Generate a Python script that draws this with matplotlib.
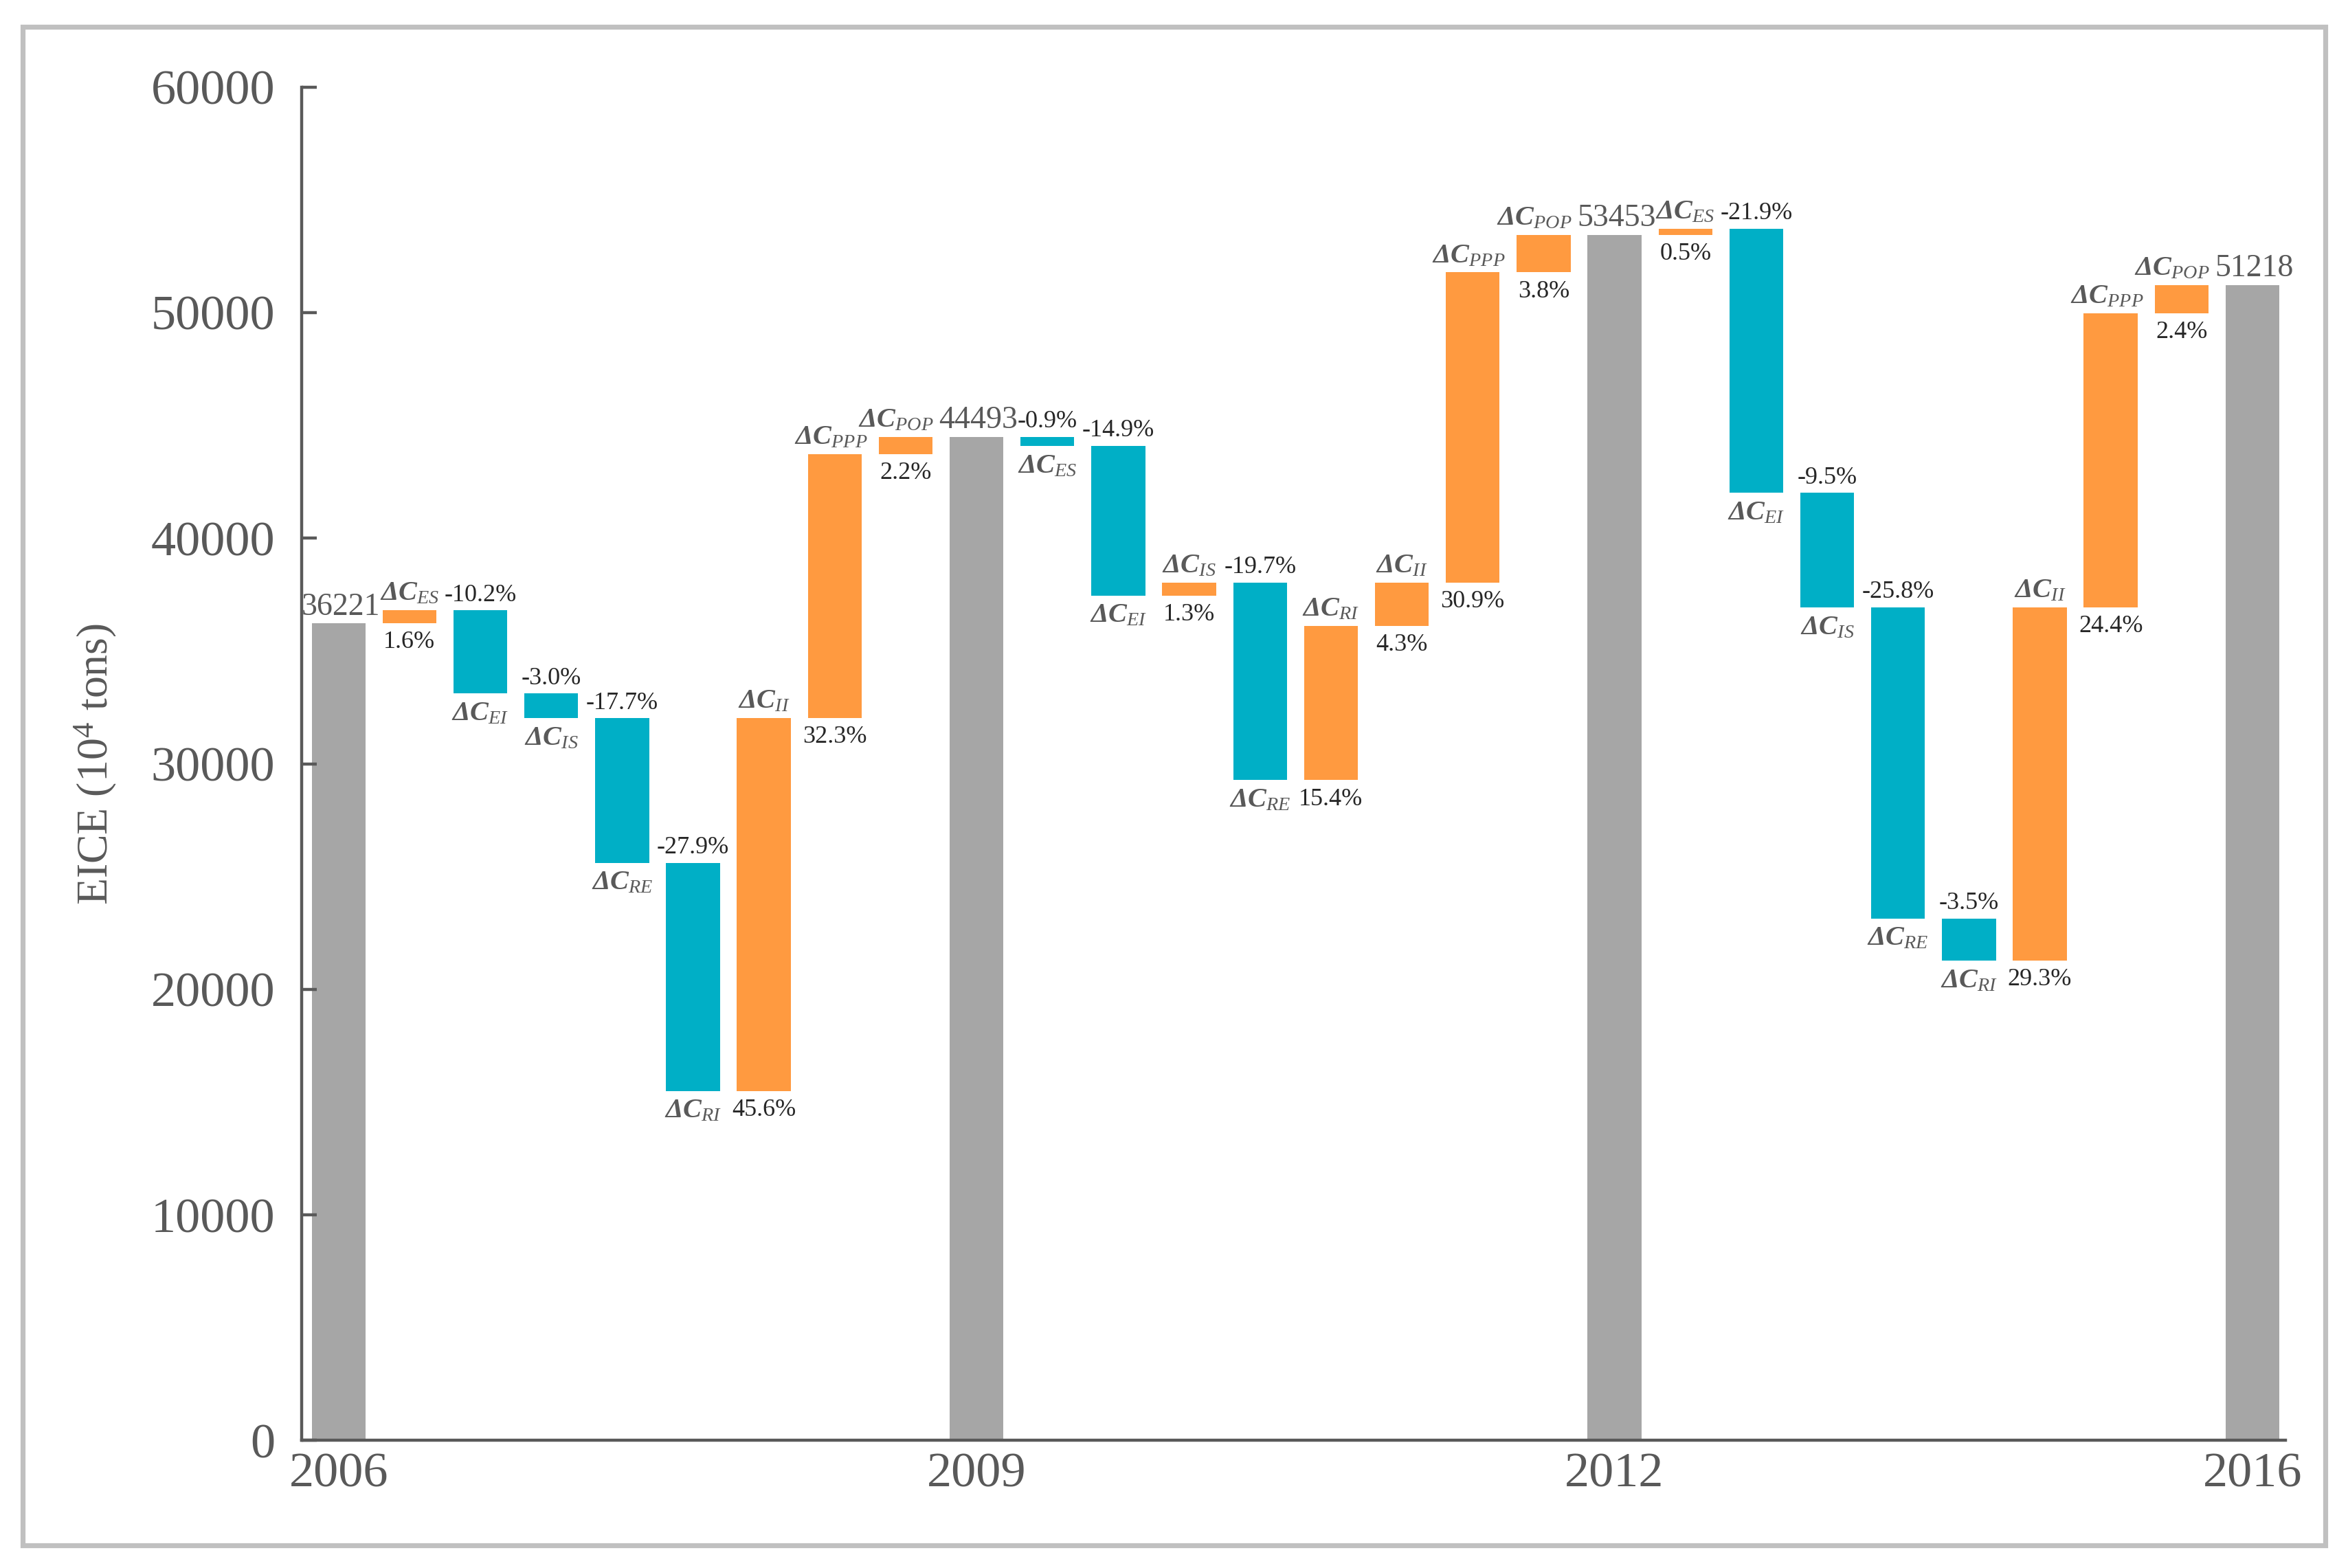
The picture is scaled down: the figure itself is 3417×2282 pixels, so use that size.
import matplotlib
matplotlib.use("Agg")
import matplotlib.pyplot as plt
from matplotlib.patches import Rectangle

plt.rcParams['font.family'] = ['Liberation Serif', 'DejaVu Serif']
plt.rcParams['mathtext.fontset'] = 'custom'
plt.rcParams['mathtext.rm'] = 'Liberation Serif'
plt.rcParams['mathtext.it'] = 'Liberation Serif:italic'
plt.rcParams['mathtext.bf'] = 'Liberation Serif:bold:italic'

# dane (10^4 ton)
years = ['2006', '2009', '2012', '2016']
totals = [36221, 44493, 53453, 51218]
factors = ['ES', 'EI', 'IS', 'RE', 'RI', 'II', 'PPP', 'POP']

effects_0609 = [580, -3690, -1090, -6410, -10110, 16520, 11700, 770]
effects_0912 = [-400, -6630, 580, -8770, 6850, 1910, 13750, 1670]
effects_1216 = [270, -11710, -5080, -13790, -1870, 15660, 13040, 1250]

pct_0609 = [1.6, -10.2, -3.0, -17.7, -27.9, 45.6, 32.3, 2.2]
pct_0912 = [-0.9, -14.9, 1.3, -19.7, 15.4, 4.3, 30.9, 3.8]
pct_1216 = [0.5, -21.9, -9.5, -25.8, -3.5, 29.3, 24.4, 2.4]

effects = [effects_0609, effects_0912, effects_1216]
pcts = [pct_0609, pct_0912, pct_1216]

GRAY = '#A6A6A6'
TEAL = '#00AFC6'
ORANGE = '#FF9A40'
TXT = '#595959'

fig = plt.figure(figsize=(17.085, 11.41), dpi=200)
ax = fig.add_axes([0.1285, 0.0813, 0.845, 0.8632])

w = 0.76
pos = 0
tick_pos = []
for k in range(4):
    # slupek calkowity
    ax.bar(pos, totals[k], width=w, color=GRAY)
    ax.annotate(str(totals[k]), (pos, totals[k]), xytext=(1, 1),
                textcoords='offset points', ha='center', va='bottom',
                fontsize=16.5, color=TXT)
    tick_pos.append(pos)
    pos += 1
    if k == 3:
        break
    level = totals[k]
    for name, d, p in zip(factors, effects[k], pcts[k]):
        col = ORANGE if d > 0 else TEAL
        ax.bar(pos, d, bottom=level, width=w, color=col)
        top = max(level, level + d)
        bot = min(level, level + d)
        lab = r'$\mathbf{\Delta C}_{\mathit{%s}}$' % name
        ptxt = '%.1f%%' % p
        if d > 0:
            up, down = lab, ptxt
        else:
            up, down = ptxt, lab
        dx = -5 if name == 'POP' else (-2 if name == 'PPP' else 0)
        ax.annotate(up, (pos, top), xytext=(dx if up == lab else 0, 2),
                    textcoords='offset points', ha='center', va='bottom',
                    fontsize=14.5 if up == lab else 13,
                    color=TXT if up == lab else '#262626')
        ax.annotate(down, (pos, bot), xytext=(0, -4), textcoords='offset points',
                    ha='center', va='top',
                    fontsize=14.5 if down == lab else 13,
                    color=TXT if down == lab else '#262626')
        level += d
        pos += 1

ax.set_xlim(-0.52, 27.47)
ax.set_ylim(0, 60000)
ax.set_yticks(range(0, 60001, 10000))
ax.set_xticks(tick_pos)
ax.set_xticklabels(years)
ax.set_ylabel('EICE (10$^4$ tons)', fontsize=23, color=TXT, labelpad=17)

for s in ['top', 'right']:
    ax.spines[s].set_visible(False)
for s in ['left', 'bottom']:
    ax.spines[s].set_color(TXT)
    ax.spines[s].set_linewidth(1.6)
ax.tick_params(axis='y', direction='in', length=8, width=1.6, colors=TXT,
               labelsize=26, pad=14)
ax.tick_params(axis='x', length=0, colors=TXT, labelsize=26, pad=6)

# ramka wokol rysunku
fig.patches.append(Rectangle((0.0096, 0.0144), 0.9808, 0.9683, transform=fig.transFigure,
                             fill=False, edgecolor='#C0C0C0', linewidth=2.6))

fig.savefig('out.png', dpi=200)
